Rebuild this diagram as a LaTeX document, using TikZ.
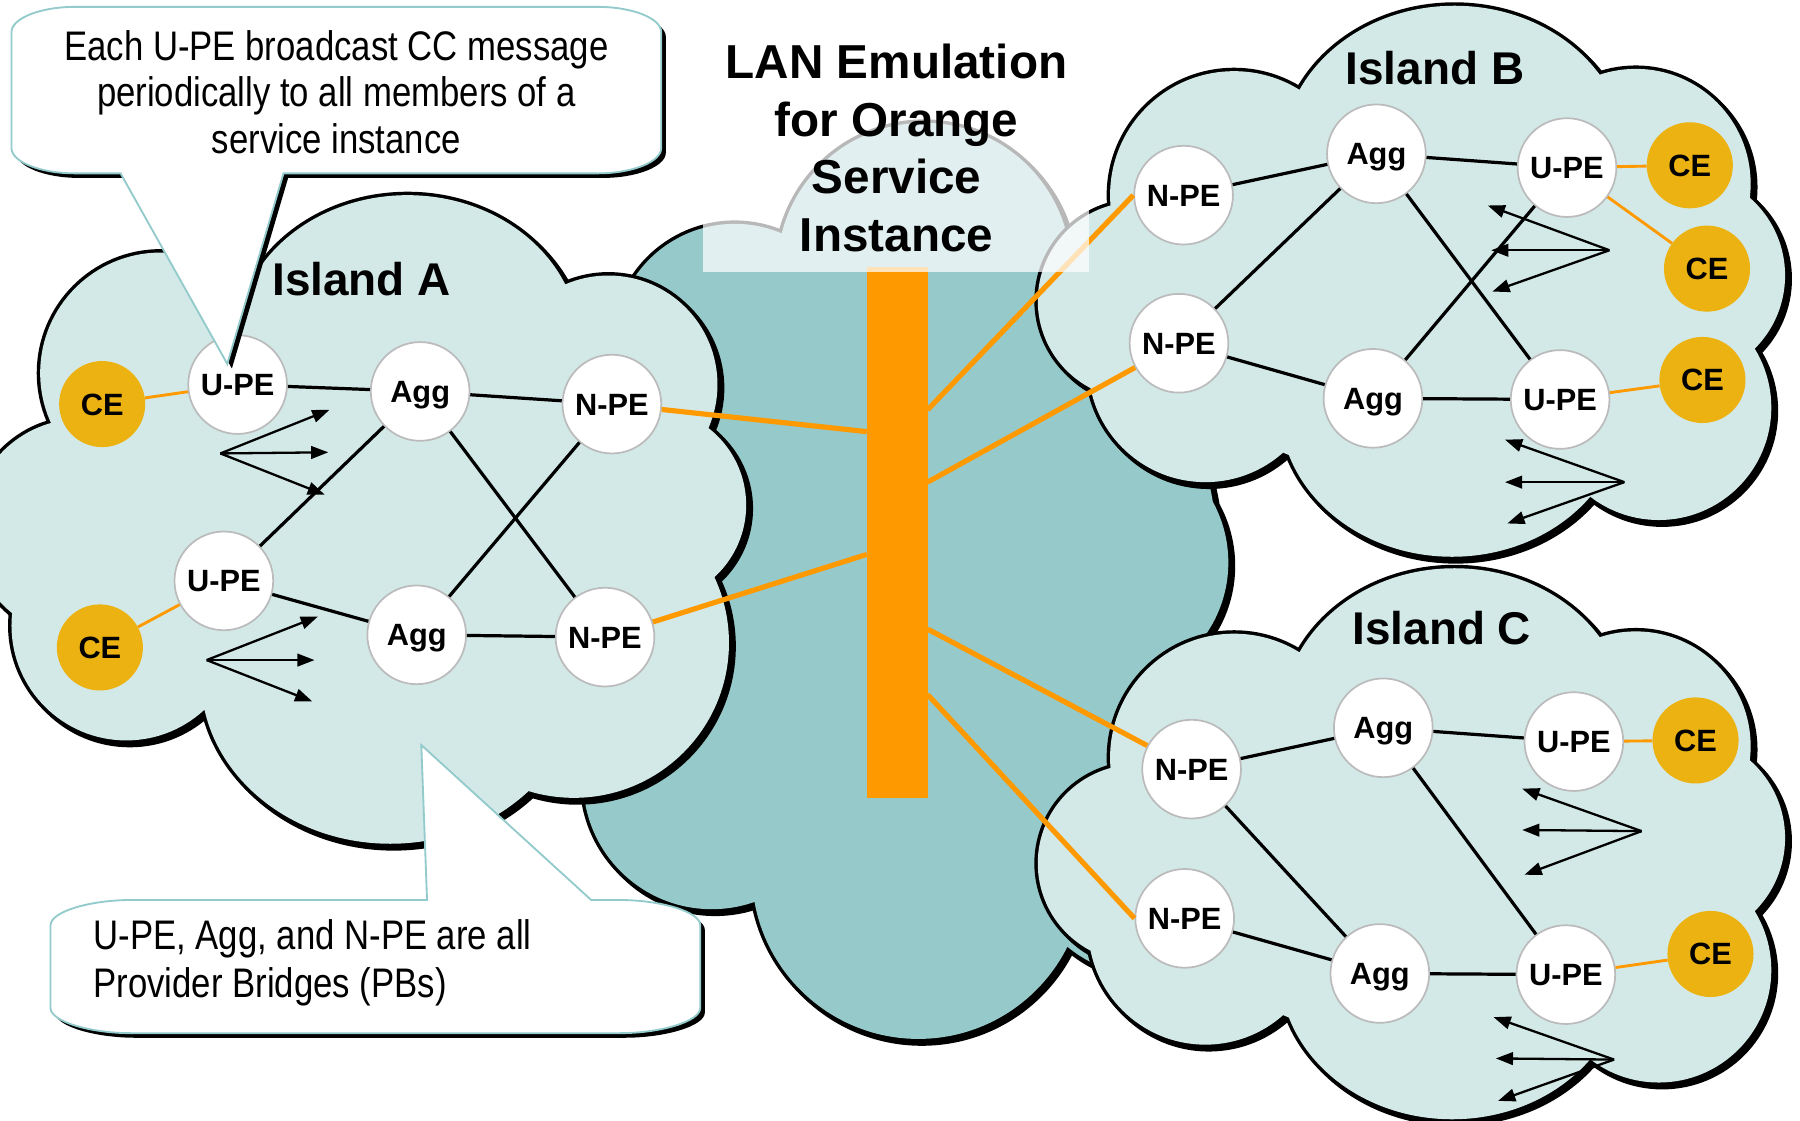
\documentclass[tikz,border=0pt]{standalone}
\usepackage{fontspec}
\setmainfont{Liberation Sans}
\newfontfamily\narrowfont[FakeStretch=0.84]{Liberation Sans}
\usetikzlibrary{arrows.meta}
\definecolor{cloudlight}{HTML}{D3E9E8}
\definecolor{clouddark}{HTML}{96C9CA}
\definecolor{barorange}{HTML}{FF9900}
\definecolor{cegold}{HTML}{ECB212}
\definecolor{calloutteal}{HTML}{93CACB}
\definecolor{nodegray}{HTML}{BBBBBB}
\newcommand\drawcloud[2]{%
  \draw[black,fill=black,line width=6pt,shift={(3,3)}] #2;
  \draw[black,line width=6pt] #2;
  \fill[#1] #2;}
\newcommand\drawcallout[1]{%
  \fill[black,shift={(4,4)}] #1;
  \filldraw[fill=white,draw=calloutteal,line width=1.6pt] #1;}
\newcommand\fan[5]{%
  \coordinate (#1s) at #2; \coordinate (#1a) at #3;
  \coordinate (#1b) at #4; \coordinate (#1c) at #5;
  \draw[fanarrow] (#1s) -- (#1a);
  \draw[fanarrow] (#1s) -- (#1b);
  \draw[fanarrow] (#1s) -- (#1c);}
\begin{document}
\begin{tikzpicture}[x=1pt,y=-1pt,
  pb/.style={circle,fill=white,draw=nodegray,line width=1.5pt,minimum size=86pt,inner sep=0pt,
    text height=19.2pt,text depth=0pt,font=\bfseries\fontsize{26.8}{26.8}\selectfont},
  ce/.style={circle,fill=cegold,minimum size=75pt,inner sep=0pt,
    text height=19.2pt,text depth=0pt,font=\bfseries\fontsize{26.8}{26.8}\selectfont},
  link/.style={line width=2.8pt,black},
  celink/.style={line width=2.5pt,barorange},
  trunk/.style={line width=4.5pt,barorange},
  fanarrow/.style={line width=2pt,-{Triangle[length=15pt,width=11pt]}},
  islandlbl/.style={font=\bfseries\fontsize{40}{40}\selectfont,inner sep=0pt},
]
\useasboundingbox (0,0) rectangle (1568,976);
\clip (0,0) rectangle (1568,976);

% central cloud
\drawcloud{clouddark}{(805,235) circle[radius=128pt] (640,300) circle[radius=105pt]
  (960,490) circle[radius=110pt] (800,760) circle[radius=145pt]
  (620,680) circle[radius=112pt] (1000,740) circle[radius=110pt]
  (800,480) circle[radius=260pt]}

% Island A
\drawcloud{cloudlight}{(140,325) circle[radius=105pt]
  (355,300) ellipse[x radius=150pt,y radius=130pt]
  (530,335) circle[radius=95pt] (565,440) circle[radius=85pt]
  (500,560) circle[radius=135pt]
  (340,590) ellipse[x radius=165pt,y radius=145pt]
  (110,545) circle[radius=100pt] (70,460) circle[radius=95pt]
  (330,450) circle[radius=200pt]}

% Island B
\drawcloud{cloudlight}{(1267,135) ellipse[x radius=150pt,y radius=130pt]
  (1075,170) circle[radius=108pt] (990,262) circle[radius=86pt]
  (1050,318) circle[radius=102pt]
  (1265,355) ellipse[x radius=150pt,y radius=130pt]
  (1445,355) circle[radius=98pt] (1465,240) circle[radius=90pt]
  (1425,160) circle[radius=100pt]
  (1250,250) ellipse[x radius=250pt,y radius=170pt]}

% Island C
\drawcloud{cloudlight}{(1267,625) ellipse[x radius=150pt,y radius=130pt]
  (1075,660) circle[radius=108pt] (990,752) circle[radius=86pt]
  (1050,808) circle[radius=102pt]
  (1265,845) ellipse[x radius=150pt,y radius=130pt]
  (1445,845) circle[radius=98pt] (1465,730) circle[radius=90pt]
  (1425,650) circle[radius=100pt]
  (1250,740) ellipse[x radius=250pt,y radius=170pt]}

% island labels
\node[islandlbl] (lblA) at (315,243) {Island A};
\node[islandlbl] (lblB) at (1250,59) {Island B};
\node[islandlbl] (lblC) at (1256,547) {Island C};

% nodes Island A
\node[ce] (ceA1) at (89,352) {CE};
\node[pb] (upeA1) at (207,335) {U-PE};
\node[pb] (aggA1) at (366,341) {Agg};
\node[pb] (npeA1) at (533,352) {N-PE};
\node[pb] (upeA2) at (195,506) {U-PE};
\node[ce] (ceA2) at (87,564) {CE};
\node[pb] (aggA2) at (363,553) {Agg};
\node[pb] (npeA2) at (527,555) {N-PE};

% nodes Island B
\node[pb] (npeB1) at (1031,170) {N-PE};
\node[pb] (aggB1) at (1199,134) {Agg};
\node[pb] (upeB1) at (1365,146) {U-PE};
\node[ce] (ceB1) at (1472,144) {CE};
\node[ce] (ceB2) at (1487,234) {CE};
\node[pb] (npeB2) at (1027,299) {N-PE};
\node[pb] (aggB2) at (1196,347) {Agg};
\node[pb] (upeB2) at (1359,348) {U-PE};
\node[ce] (ceB3) at (1483,331) {CE};

% nodes Island C
\node[pb] (npeC1) at (1038,670) {N-PE};
\node[pb] (aggC1) at (1205,634) {Agg};
\node[pb] (upeC1) at (1371,646) {U-PE};
\node[ce] (ceC1) at (1477,645) {CE};
\node[pb] (npeC2) at (1032,800) {N-PE};
\node[pb] (aggC2) at (1202,848) {Agg};
\node[pb] (upeC2) at (1364,849) {U-PE};
\node[ce] (ceC2) at (1490,831) {CE};

% LAN bar
\node[fill=barorange,minimum width=53pt,minimum height=462pt,inner sep=0pt] (bar) at (781.5,464) {};
\coordinate (tA1) at (755,376);
\coordinate (tA2) at (755,483);
\coordinate (tB1) at (808,357);
\coordinate (tB2) at (808,420);
\coordinate (tC1) at (808,548);
\coordinate (tC2) at (808,605);
\draw[trunk] (npeA1) -- (tA1);
\draw[trunk] (npeA2) -- (tA2);
\draw[trunk] (tB1) -- (npeB1.west);
\draw[trunk] (tB2) -- (npeB2);
\draw[trunk] (tC1) -- (npeC1);
\draw[trunk] (tC2) -- (npeC2.west);

% CE links
\draw[celink] (ceA1) -- (upeA1);
\draw[celink] (ceA2) -- (upeA2);
\draw[celink] (upeB1) -- (ceB1);
\draw[celink] (upeB1) -- (ceB2);
\draw[celink] (upeB2) -- (ceB3);
\draw[celink] (upeC1) -- (ceC1);
\draw[celink] (upeC2) -- (ceC2);

% PB links Island A
\draw[link] (upeA1) -- (aggA1);
\draw[link] (aggA1) -- (npeA1);
\draw[link] (aggA1) -- (npeA2);
\draw[link] (upeA2) -- (aggA1);
\draw[link] (upeA2) -- (aggA2);
\draw[link] (aggA2) -- (npeA1);
\draw[link] (aggA2) -- (npeA2);
% Island B
\draw[link] (npeB1) -- (aggB1);
\draw[link] (aggB1) -- (upeB1);
\draw[link] (aggB1) -- (npeB2);
\draw[link] (aggB1) -- (upeB2);
\draw[link] (npeB2) -- (aggB2);
\draw[link] (aggB2) -- (upeB2);
\draw[link] (aggB2) -- (upeB1);
% Island C
\draw[link] (npeC1) -- (aggC1);
\draw[link] (aggC1) -- (upeC1);
\draw[link] (npeC1) -- (aggC2);
\draw[link] (aggC1) -- (upeC2);
\draw[link] (npeC2) -- (aggC2);
\draw[link] (aggC2) -- (upeC2);

% broadcast fans
\fan{fA1}{(192,395)}{(287,357)}{(286,394)}{(283,431)}
\fan{fA2}{(180,575)}{(277,537)}{(274,575)}{(272,611)}
\fan{fB1}{(1402,218)}{(1296,179)}{(1299,218)}{(1300,254)}
\fan{fB2}{(1415,420)}{(1311,383)}{(1311,420)}{(1313,456)}
\fan{fC1}{(1430,724)}{(1326,687)}{(1326,723)}{(1328,762)}
\fan{fC2}{(1406,923)}{(1301,886)}{(1303,922)}{(1305,959)}

% callouts
\drawcallout{(65,6) -- (521,6) .. controls (551,6) and (576,16) .. (576,28)
  -- (576,129) .. controls (576,141) and (551,151) .. (521,151)
  -- (247,151) -- (198,317) -- (105,151) -- (65,151)
  .. controls (35,151) and (10,141) .. (10,129) -- (10,28)
  .. controls (10,16) and (35,6) .. (65,6) -- cycle}
\node[align=center,font=\narrowfont\fontsize{36}{40.5}\selectfont] (note1) at (293,80)
  {Each U-PE broadcast CC message\\periodically to all members of a\\service instance};

\drawcallout{(114,784) -- (372,784) -- (367,649) -- (515,784) -- (540,784)
  .. controls (575,784) and (610,794) .. (610,806) -- (610,878)
  .. controls (610,890) and (575,900) .. (540,900) -- (114,900)
  .. controls (79,900) and (44,890) .. (44,878) -- (44,806)
  .. controls (44,794) and (79,784) .. (114,784) -- cycle}
\node[anchor=west,align=left,font=\narrowfont\fontsize{36}{42}\selectfont] (note2) at (78,839)
  {U-PE, Agg, and N-PE are all\\Provider Bridges (PBs)};

% translucent title backdrop and title
\fill[white,opacity=0.72] (612,20) rectangle (949,237);
\node[align=center,font=\bfseries\fontsize{41.5}{50.3}\selectfont] (title) at (781,129)
  {LAN Emulation\\for Orange\\Service\\Instance};
\end{tikzpicture}
\end{document}
